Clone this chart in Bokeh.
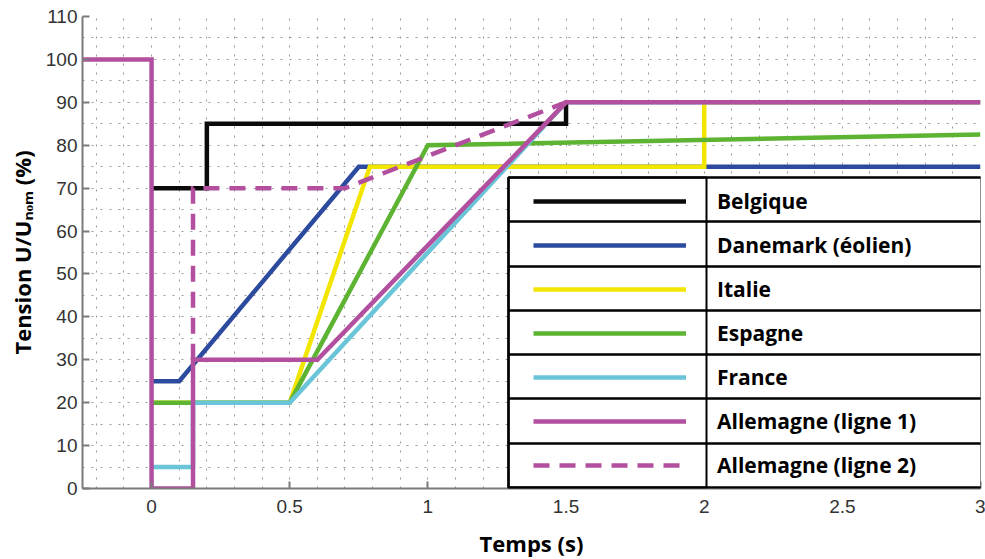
import math
from bokeh.plotting import figure
from bokeh.models import (Legend, LegendItem, BoxAnnotation,
                          SingleIntervalTicker, NumeralTickFormatter, FixedTicker)
from bokeh.embed import file_html
from bokeh.resources import INLINE

# ---------------- data ----------------
belgique_t = [0.0, 0.2, 0.2, 1.5, 1.5]
belgique_u = [70, 70, 85, 85, 90]

danemark_t = [0.0, 0.1, 0.75, 3.0]
danemark_u = [25, 25, 75, 75]

italie_t = [0.0, 0.5, 0.79, 2.0, 2.0, 3.0]
italie_u = [20, 20, 75, 75, 90, 90]

espagne_t = [0.0, 0.5, 1.0, 3.0]
espagne_u = [20, 20, 80, 82.5]

france_t = [0.0, 0.15, 0.15, 0.5, 1.5, 3.0]
france_u = [5, 5, 20, 20, 90, 90]

allemagne1_t = [-0.25, 0.0, 0.0, 0.15, 0.15, 0.6, 1.5, 3.0]
allemagne1_u = [100, 100, 0, 0, 30, 30, 90, 90]

allemagne2_t = [0.15, 0.15, 0.7, 1.5]
allemagne2_u = [30, 70, 70, 90]

legend_labels = ["Belgique", "Danemark (éolien)", "Italie", "Espagne",
                 "France", "Allemagne (ligne 1)", "Allemagne (ligne 2)"]

x_ticks = [0, 0.5, 1, 1.5, 2, 2.5, 3]
y_ticks = [0, 10, 20, 30, 40, 50, 60, 70, 80, 90, 100, 110]

x_title = "Temps (s)"
y_title = "Tension U/U\u2099\u2092\u2098 (%)"

# ---------------- styles ----------------
C_BLACK = "#0a0a0a"
C_BLUE = "#2d4b9e"
C_YELLOW = "#f2e500"
C_GREEN = "#5db332"
C_CYAN = "#6ac5d8"
C_MAGENTA = "#b24f9f"
LW = 4.5
FONT = "Open Sans"

p = figure(frame_width=898, frame_height=472,
           x_range=(-0.25, 3), y_range=(0, 110),
           output_backend="svg", toolbar_location=None,
           min_border_left=82, min_border_right=5,
           min_border_top=16, min_border_bottom=71)
p.outline_line_color = None
p.background_fill_color = "white"
p.border_fill_color = "white"

# grid (dotted)
p.xgrid.ticker = SingleIntervalTicker(interval=0.1, num_minor_ticks=0)
p.ygrid.ticker = SingleIntervalTicker(interval=5, num_minor_ticks=0)
for g in (p.xgrid, p.ygrid):
    g.grid_line_color = "#8f8f8f"
    g.grid_line_dash = "2 7"
    g.grid_line_width = 1
    g.grid_line_alpha = 0.9

# axes
p.xaxis.ticker = FixedTicker(ticks=x_ticks)
p.yaxis.ticker = FixedTicker(ticks=y_ticks)
p.xaxis.formatter = NumeralTickFormatter(format="0.[0]")
for ax in (p.xaxis, p.yaxis):
    ax.axis_line_color = "#7a7a7a"
    ax.axis_line_width = 2
    ax.major_tick_line_color = "#7a7a7a"
    ax.major_tick_line_width = 2
    ax.major_tick_in = 7
    ax.major_tick_out = 0
    ax.minor_tick_line_color = None
    ax.major_label_text_font = "Liberation Sans"
    ax.major_label_text_font_size = "19px"
    ax.major_label_text_color = "#333333"
    ax.axis_label_text_font = FONT
    ax.axis_label_text_font_style = "bold"
    ax.axis_label_text_font_size = "22px"
    ax.axis_label_text_color = "black"
p.xaxis.major_label_standoff = 11
p.yaxis.major_label_standoff = 5
p.xaxis.axis_label = x_title
p.yaxis.axis_label = y_title
p.xaxis.axis_label_standoff = 12
p.yaxis.axis_label_standoff = 6

common = dict(line_width=LW, line_join="miter", line_cap="butt")
r_blue = p.line(danemark_t, danemark_u, line_color=C_BLUE, **common)
r_yellow = p.line(italie_t, italie_u, line_color=C_YELLOW, **common)
r_green = p.line(espagne_t, espagne_u, line_color=C_GREEN, **common)
r_cyan = p.line(france_t, france_u, line_color=C_CYAN, **common)
r_black = p.line(belgique_t, belgique_u, line_color=C_BLACK, **common)
r_dash = p.line(allemagne2_t, allemagne2_u, line_color=C_MAGENTA,
                line_dash="16 10", **common)
r_mag = p.line(allemagne1_t, allemagne1_u, line_color=C_MAGENTA, **common)

# ---------------- legend table ----------------
row_edges = [311, 267, 222, 178, 134, 90, 45, 1]   # frame-relative screen px
tab_left, tab_right, col_sep = 426, 899, 624

def box(l, r, b, t, **kw):
    return BoxAnnotation(left=l, right=r, bottom=b, top=t,
                         left_units="screen", right_units="screen",
                         bottom_units="screen", top_units="screen", **kw)

p.add_layout(box(tab_left, tab_right, row_edges[-1], row_edges[0],
                 fill_color="white", fill_alpha=1.0,
                 line_color="black", line_alpha=1.0, line_width=2))
for i in range(len(row_edges) - 1):
    p.add_layout(box(tab_left, tab_right, row_edges[i + 1], row_edges[i],
                     fill_alpha=0, line_color="black", line_alpha=1.0, line_width=2))
p.add_layout(box(tab_left, col_sep, row_edges[-1], row_edges[0],
                 fill_alpha=0, line_color="black", line_alpha=1.0, line_width=2))

leg_renderers = [r_black, r_blue, r_yellow, r_green, r_cyan, r_mag, r_dash]
legend = Legend(items=[LegendItem(label=lab, renderers=[r])
                       for lab, r in zip(legend_labels, leg_renderers)],
                location=(451, 1), orientation="vertical",
                padding=0, spacing=0, margin=0,
                glyph_width=153, glyph_height=44, label_height=44,
                label_standoff=31,
                label_text_font=FONT, label_text_font_size="21px",
                label_text_font_style="bold", label_text_color="black",
                label_text_baseline="middle",
                border_line_color=None, background_fill_alpha=0)
p.add_layout(legend)

open("out.html", "w").write(file_html(p, INLINE))
